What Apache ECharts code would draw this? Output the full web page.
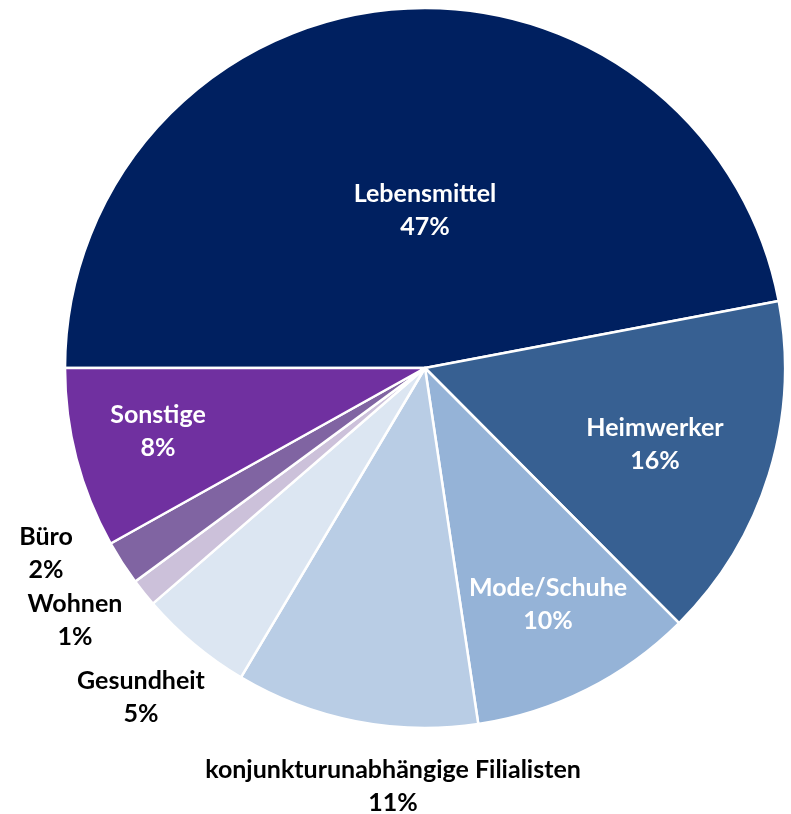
<!DOCTYPE html>
<html>
<head>
<meta charset="utf-8">
<script src="https://cdn.jsdelivr.net/npm/echarts@6/dist/echarts.min.js"></script>
<style>
  html, body { margin: 0; padding: 0; background: #fff; }
  #chart { width: 791px; height: 814px; }
</style>
</head>
<body>
<div id="chart"></div>
<script>
// Branchenmix (Anteile in %; labels show rounded values)
var categories = ["Lebensmittel", "Heimwerker", "Mode/Schuhe", "konjunkturunabhängige Filialisten",
  "Gesundheit", "Wohnen", "Büro", "Sonstige"];
var shares = [47, 15.5, 10.1, 10.9, 5.1, 1.25, 2, 8.1];

var colors = ["#002060", "#376092", "#95B3D7", "#B9CDE5", "#DCE6F2", "#CCC1DA", "#8064A2", "#7030A0"];
// label centres (px), placed like the original
var labelPos = [[425, 210], [655, 444], [548, 604], [393, 786], [141, 697], [75, 620], [46, 553], [158, 431]];
var insideLabel = [true, true, true, false, false, false, false, true];

var chart = echarts.init(document.getElementById("chart"));

var seriesData = categories.map(function (name, i) {
  return {
    name: name,
    value: shares[i],
    itemStyle: { color: colors[i] },
    label: { color: insideLabel[i] ? "#ffffff" : "#000000" }
  };
});

chart.setOption({
  animation: false,
  series: [{
    type: "pie",
    center: [425, 368],
    radius: [0, 360],
    startAngle: 180,
    clockwise: true,
    avoidLabelOverlap: false,
    data: seriesData,
    itemStyle: { borderColor: "#ffffff", borderWidth: 2.5 },
    label: {
      show: true,
      position: "inside",
      fontFamily: "Lato",
      fontWeight: "bold",
      fontSize: 25,
      lineHeight: 33,
      align: "center",
      formatter: function (p) { return p.name + "\n" + Math.round(p.value) + "%"; }
    },
    labelLine: { show: false },
    labelLayout: function (p) {
      var pos = labelPos[p.dataIndex];
      return { x: pos[0], y: pos[1], align: "center", verticalAlign: "middle" };
    },
    emphasis: { disabled: true }
  }]
});
</script>
</body>
</html>
